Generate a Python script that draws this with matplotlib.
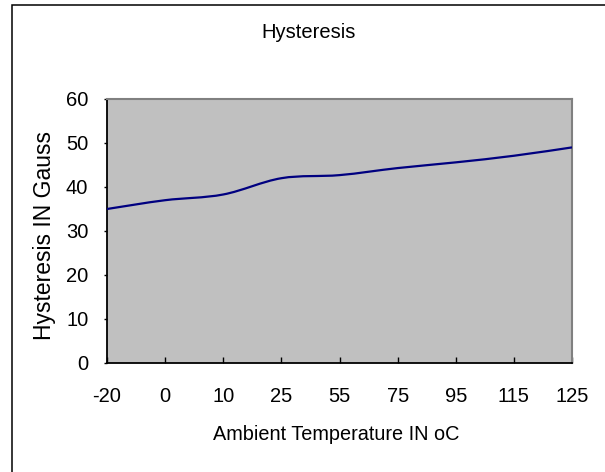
import numpy as np
import matplotlib
matplotlib.use('Agg')
import matplotlib.pyplot as plt
from matplotlib.path import Path
from matplotlib.patches import PathPatch, Rectangle

# =============================================================================
# --------------------DATA-----------------------------------------------------
# =============================================================================

temps = ['-20', '0', '10', '25', '55', '75', '95', '115', '125']
hysteresis = [35.0, 37.0, 38.3, 42.0, 42.7, 44.3, 45.6, 47.1, 49.0]
y_ticks = [0, 10, 20, 30, 40, 50, 60]

title = 'Hysteresis'
x_title = 'Ambient Temperature IN oC'
y_title = 'Hysteresis IN Gauss'

# =============================================================================

plt.rcParams['font.family'] = ['Liberation Sans', 'DejaVu Sans']

fig = plt.figure(figsize=(6.05, 4.72), dpi=100)
ax = fig.add_axes([107 / 605, 1 - 363 / 472, 465 / 605, 264 / 472])
ax.set_facecolor('#c0c0c0')

# smoothed line (excel style bezier through the points)
xs = np.arange(len(hysteresis), dtype=float)
ys = np.array(hysteresis)
pts = np.column_stack([xs, ys])
ext = np.vstack([pts[0], pts, pts[-1]])
verts = [pts[0]]
codes = [Path.MOVETO]
for i in range(len(pts) - 1):
    p0, p1, p2, p3 = ext[i], ext[i + 1], ext[i + 2], ext[i + 3]
    verts += [p1 + (p2 - p0) / 6, p2 - (p3 - p1) / 6, p2]
    codes += [Path.CURVE4] * 3
ax.add_patch(PathPatch(Path(verts, codes), facecolor='none',
                       edgecolor='#000080', lw=1.6, zorder=3))

ax.set_xlim(0, len(temps) - 1)
ax.set_ylim(0, 60)
ax.set_xticks(xs)
ax.set_xticklabels(temps, fontsize=14.5)
ax.set_yticks(y_ticks)
ax.set_yticklabels([str(v) for v in y_ticks], fontsize=14.5)
ax.tick_params(axis='x', direction='in', length=4, width=1, pad=17)
ax.tick_params(axis='y', direction='out', length=2.5, width=1, pad=11)

for s in ['top', 'right']:
    ax.spines[s].set_color('#808080')
    ax.spines[s].set_linewidth(1.5)
for s in ['left', 'bottom']:
    ax.spines[s].set_color('black')
    ax.spines[s].set_linewidth(1.3)

fig.text(309 / 605, 1 - 33 / 472, title, fontsize=14.5, ha='center', va='center')
fig.text(336 / 605, 1 - 435 / 472, x_title, fontsize=14.3, ha='center', va='center')
fig.text(45 / 605, 1 - 236 / 472, y_title, fontsize=16.5, ha='center',
         va='center', rotation=90)

# chart border (right and bottom edges fall outside the picture)
fig.patches.append(Rectangle((12 / 605, -0.2), 1.2, 0.2 + 1 - 5 / 472,
                             transform=fig.transFigure, fill=False,
                             edgecolor='black', lw=1.1))

plt.savefig('out.png', dpi=100)
